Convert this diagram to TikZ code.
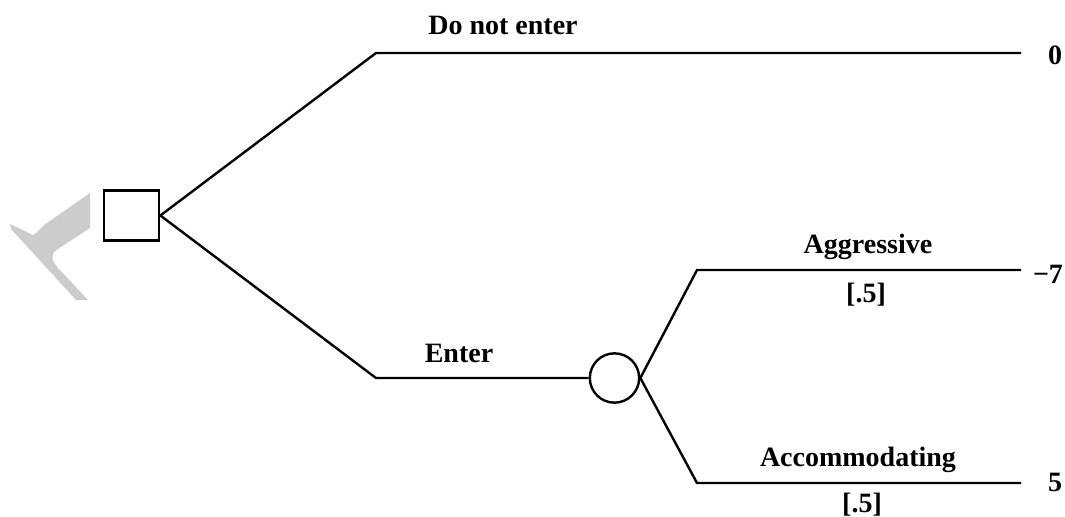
\documentclass[tikz,border=0pt]{standalone}
\usepackage{fontspec}
\setmainfont{Liberation Serif}
\begin{document}
\begin{tikzpicture}[x=0.75pt,y=-0.75pt,
  branch/.style={line width=1.8pt, line join=miter},
  decision/.style={draw, line width=1.8pt, rectangle, inner sep=0pt,
    minimum width=41.5pt, minimum height=37.5pt},
  chance/.style={draw, line width=1.8pt, circle, inner sep=0pt, minimum size=37pt},
  lbl/.style={anchor=base, inner sep=0pt, font=\fontsize{21}{25}\selectfont\bfseries},
  payoff/.style={anchor=base, inner sep=0pt, font=\fontsize{21}{25}\selectfont\bfseries}]
\useasboundingbox (0,0) rectangle (1065,517);

% faint grey mark beside the decision node
\fill[black!20] (90,193) -- (44,225) .. controls (40,229) and (37,233) .. (33,235)
  -- (10,224) -- (11,229) -- (76,300) -- (88,300)
  -- (58,268) .. controls (51,260) and (50,254) .. (58,249) -- (90,228) -- cycle;

% decision and chance nodes
\node[decision] (sq) at (131.5,215.5) {};
\node[chance] (ch) at (614.5,378) {};

% corner points and end points of the branches
\coordinate (c1) at (376,53);
\coordinate (e1) at (1021,53);
\coordinate (c2) at (376,378);
\coordinate (c3) at (697,270);
\coordinate (e3) at (1021,270);
\coordinate (c4) at (697,483);
\coordinate (e4) at (1021,483);

\draw[branch] (sq.east) -- (c1) -- (e1);
\draw[branch] (sq.east) -- (c2) -- (ch.west);
\draw[branch] (ch.east) -- (c3) -- (e3);
\draw[branch] (ch.east) -- (c4) -- (e4);

% branch labels
\node[lbl] (l1) at (503,35) {Do not enter};
\node[lbl] (l2) at (459,362) {Enter};
\node[lbl] (l3) at (868,253) {Aggressive};
\node[lbl] (p3) at (866,302) {[.5]};
\node[lbl] (l4) at (858,466) {Accommodating};
\node[lbl] (p4) at (862,512) {[.5]};

% payoffs
\node[payoff] (v1) at (1055,65) {0};
\node[payoff] (v3) at (1048,283) {−7};
\node[payoff] (v4) at (1055,491) {5};
\end{tikzpicture}
\end{document}
